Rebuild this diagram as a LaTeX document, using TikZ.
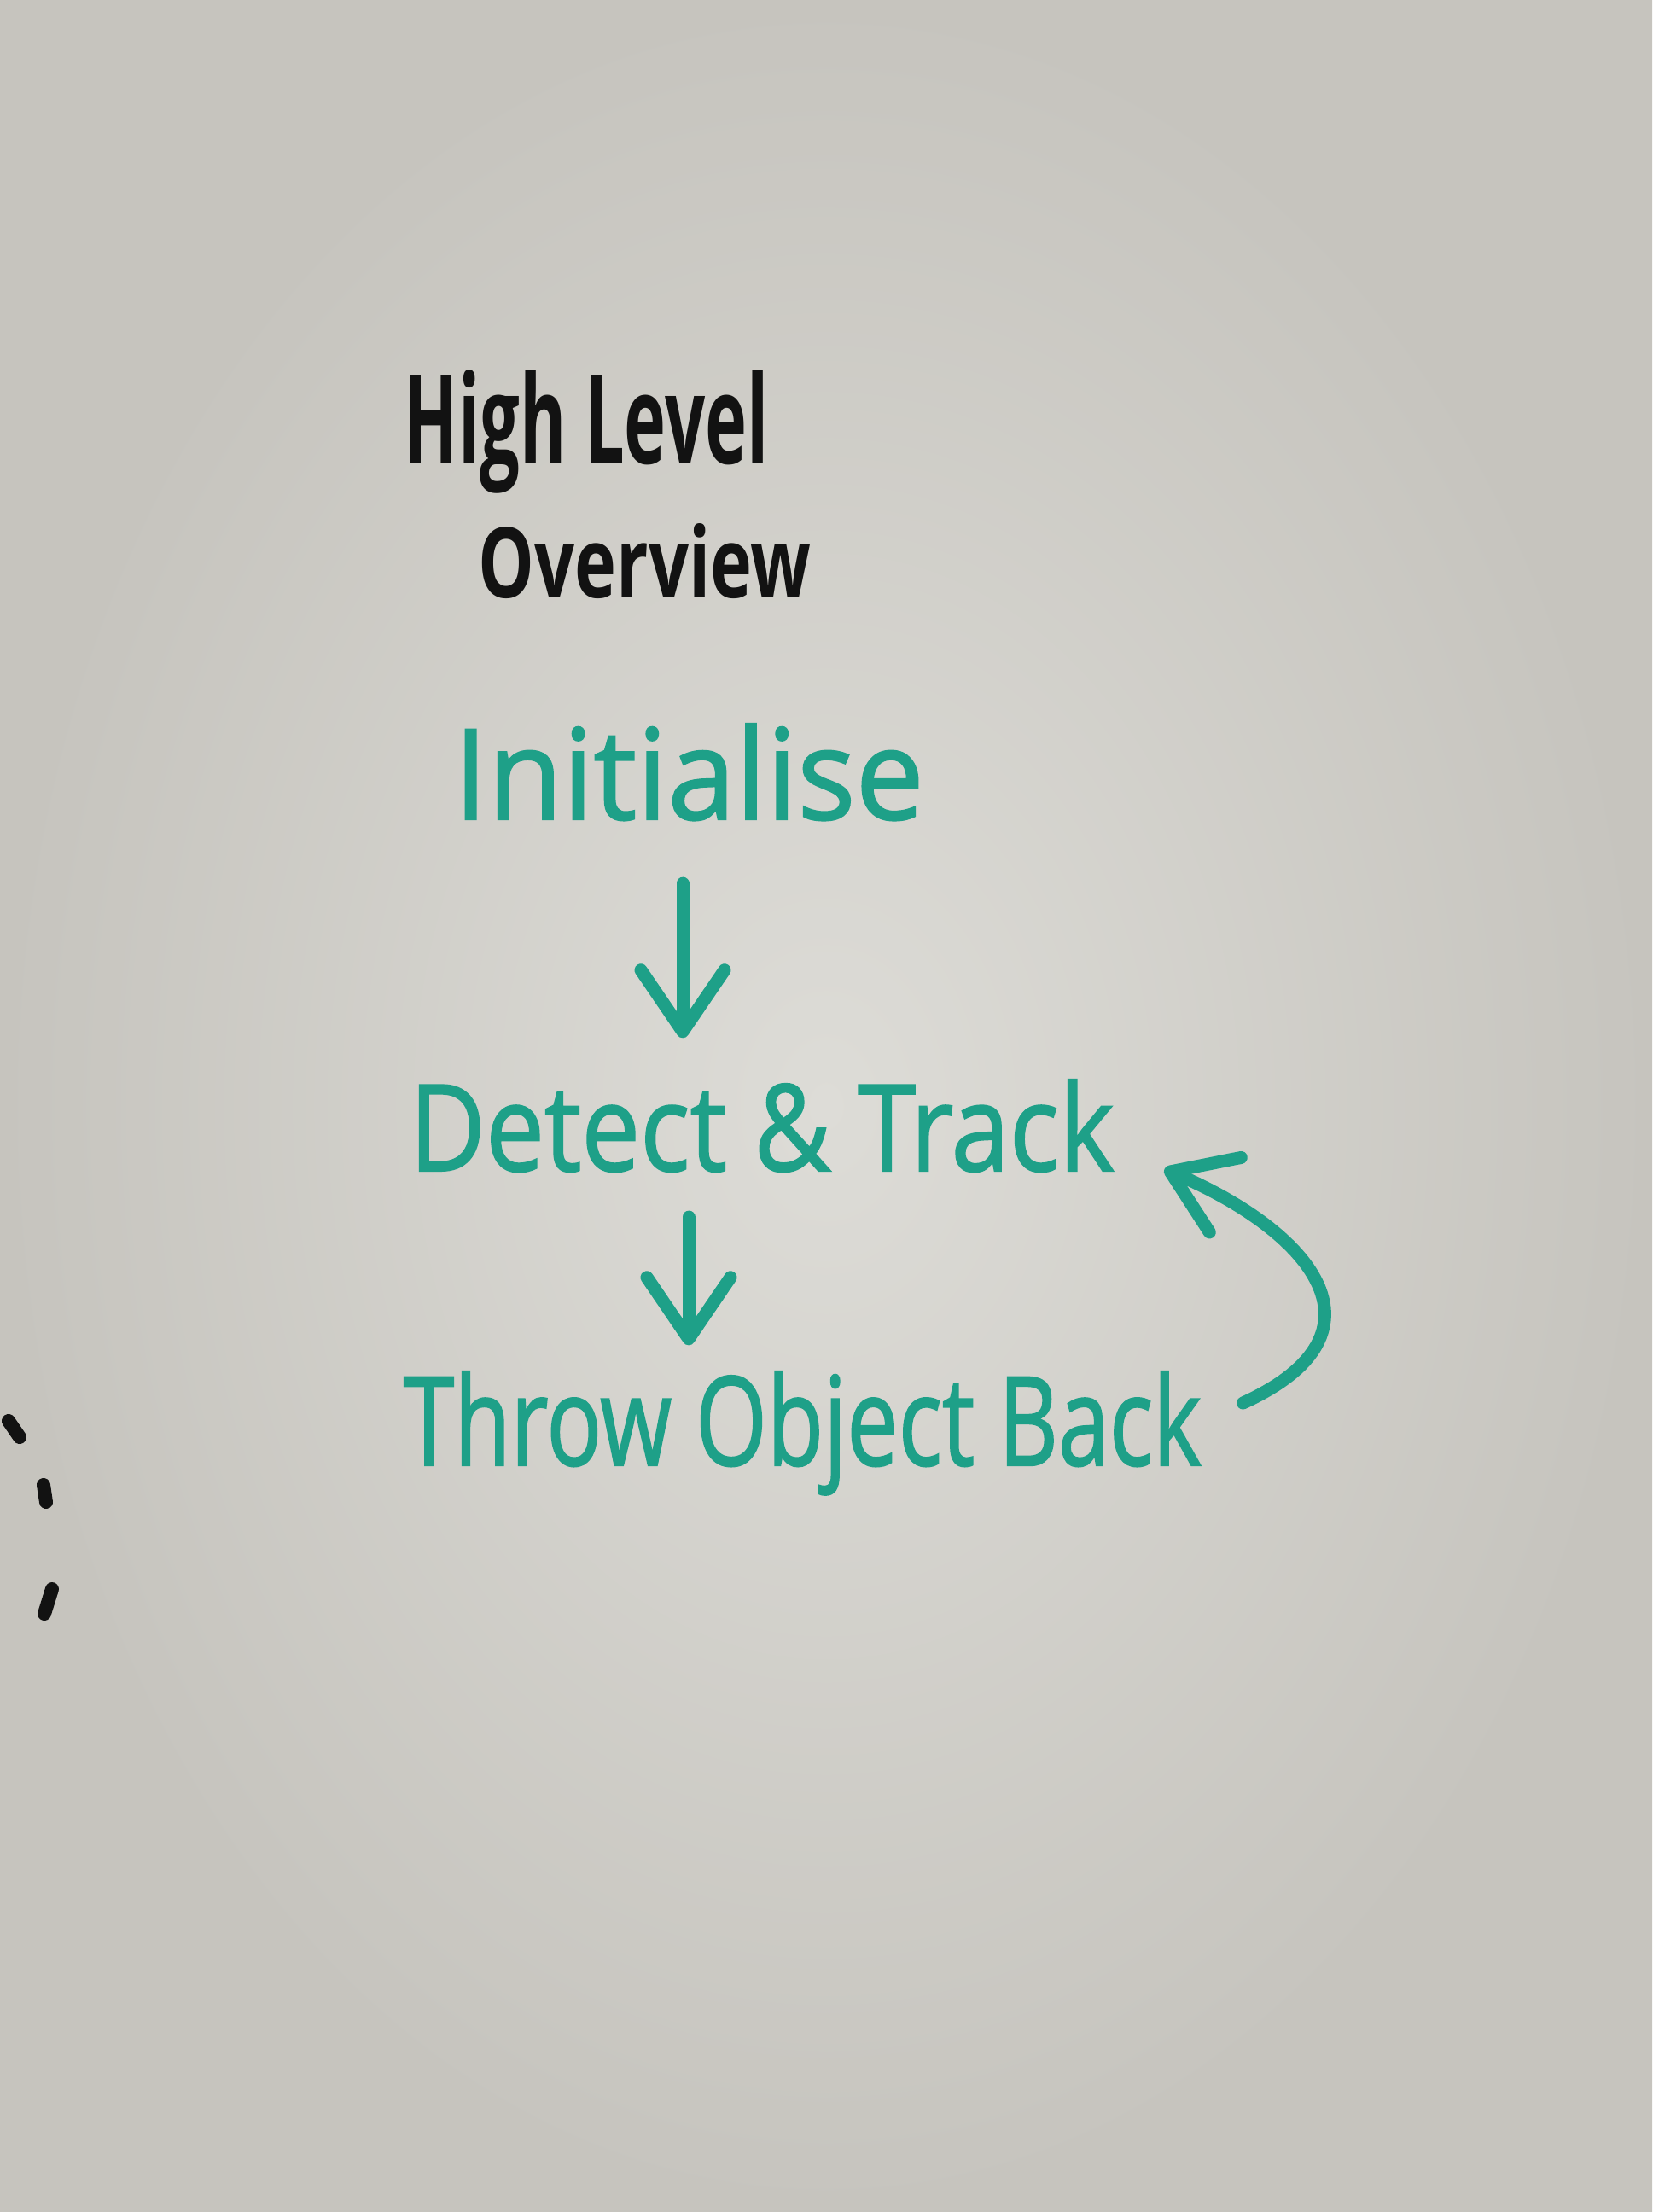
\documentclass[tikz,border=0pt]{standalone}
\usepackage{fontspec}
\setmainfont{Open Sans}
\newfontfamily\penfont[FakeBold=1.5]{Open Sans}
\usepackage{graphicx}
\usetikzlibrary{arrows.meta,calc}
\definecolor{board}{RGB}{221,220,215}
\definecolor{boardedge}{RGB}{198,196,190}
\definecolor{marker}{RGB}{30,160,136}
\definecolor{ink}{RGB}{18,18,18}
\begin{document}
\begin{tikzpicture}[
    txt/.style={inner sep=0pt, anchor=base west, font=\penfont},
    flow/.style={marker, line width=0.15cm, line cap=round,
      -{Straight Barb[length=0.72cm,width=0.98cm,round]}},
    blot/.style={ink, line width=0.16cm, line cap=round}
  ]
  \useasboundingbox (0,0) rectangle (19.36,-25.92);
  \shade[inner color=board, outer color=boardedge] (0,0) rectangle (19.36,-25.92);

  % title
  \node[txt, ink, font=\bfseries] (title1) at (4.73,-5.43) {\resizebox{4.27cm}{1.10cm}{High Level}};
  \node[txt, ink, font=\bfseries] (title2) at (5.60,-7.00) {\resizebox{3.90cm}{0.87cm}{Overview}};

  % steps
  \node[txt, marker] (init) at (5.31,-9.60) {\resizebox{5.51cm}{1.12cm}{Initialise}};
  \node[txt, marker] (detect) at (4.79,-13.72) {\resizebox{8.26cm}{1.07cm}{Detect \& Track}};
  \node[txt, marker] (throw) at (4.72,-17.17) {\resizebox{9.35cm}{1.10cm}{Throw Object Back}};

  \coordinate (axisa) at (8.00,0);
  \coordinate (axisb) at (8.07,0);
  \draw[flow, shorten <=0.73cm, shorten >=0.48cm] (axisa |- init.south) -- (axisa |- detect.north);
  \draw[flow, shorten <=0.52cm, shorten >=0.30cm] (axisb |- detect.south) -- (axisb |- throw.north);

  % loop back
  \coordinate (backout) at ($(throw.base east)+(0.48,0.73)$);
  \coordinate (backin) at ($(detect.base east)+(0.58,0.02)$);
  \draw[flow, -{Straight Barb[length=0.7cm,width=0.95cm,round]}]
    (backout) .. controls (16.4,-15.6) and (15.3,-14.4) .. (backin);

  % marks at the edge
  \draw[blot] (0.10,-16.65) -- (0.23,-16.84);
  \draw[blot] (0.51,-17.40) -- (0.54,-17.60);
  \draw[blot] (0.61,-18.62) -- (0.52,-18.91);
\end{tikzpicture}
\end{document}
